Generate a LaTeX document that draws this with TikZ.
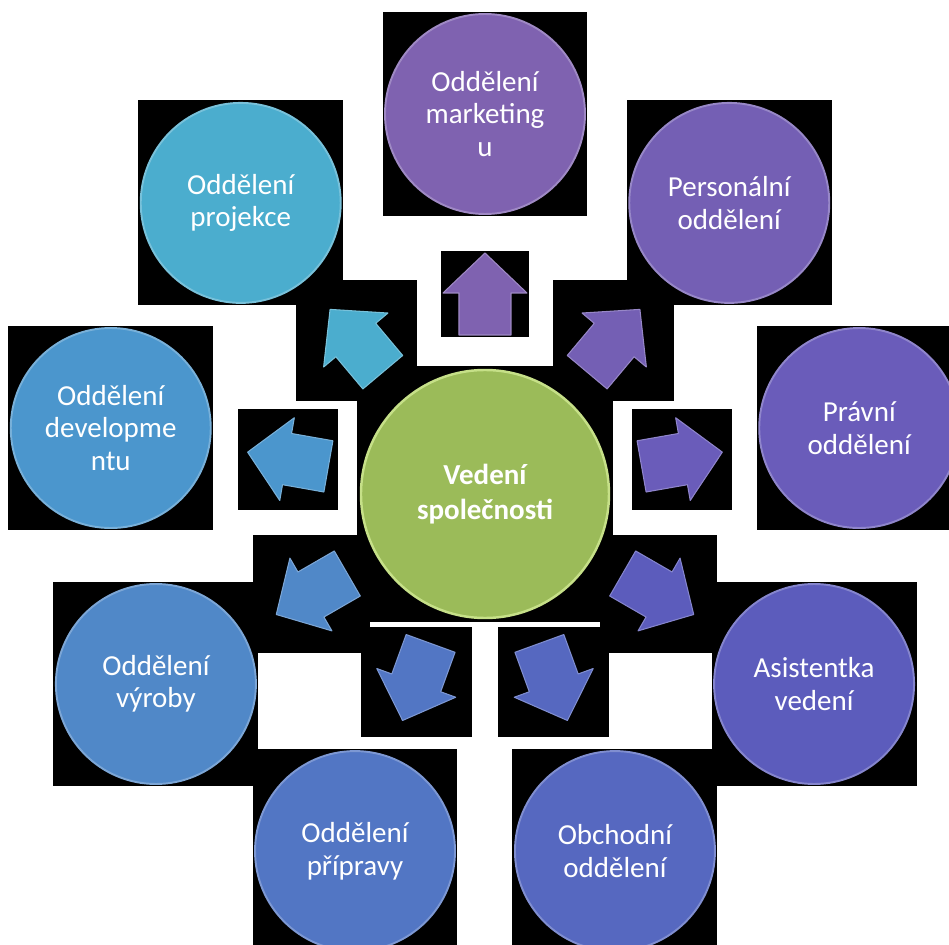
\documentclass[tikz,border=0pt]{standalone}
\usepackage{fontspec}
\setmainfont{Carlito}
\usepackage{tikz}
\usetikzlibrary{calc,fit,backgrounds}
\definecolor{headgreen}{HTML}{9BBB59}
\definecolor{headrim}{HTML}{C6E088}
\definecolor{deptA}{HTML}{7F62B0}
\definecolor{deptB}{HTML}{745FB4}
\definecolor{deptC}{HTML}{6A5CBA}
\definecolor{deptD}{HTML}{5C5CBC}
\definecolor{deptE}{HTML}{5668C0}
\definecolor{deptF}{HTML}{5276C4}
\definecolor{deptG}{HTML}{5088C8}
\definecolor{deptH}{HTML}{4B96CD}
\definecolor{deptI}{HTML}{4BADCE}
\tikzset{
    every picture/.style={line join=round},
    headnode/.style={circle,minimum size=4.96cm,inner sep=0pt,
      fill=headgreen,draw=headrim,line width=1.4pt,
      text=white,align=center,font=\fontsize{16.5}{19.5}\selectfont\bfseries},
    deptnode/.style={circle,minimum size=4cm,inner sep=0pt,line width=1.1pt,
      text=white,align=center,font=\fontsize{16.5}{18.5}\selectfont},
    blockarrow/.style={line width=0.6pt},
    backdrop/.style={rectangle,fill=black,draw=none,inner sep=#1}
}

\begin{document}
\begin{tikzpicture}
  \useasboundingbox (-9.70,-9.02) rectangle (9.28,9.88);
  \begin{scope}[on background layer]
    \fill[white] (-9.70,-9.02) rectangle (9.28,9.88);
  \end{scope}

  % management in the middle
  \node[headnode] (head) at (0,0) {Vedení\\společnosti};
  \begin{scope}[on background layer]
    \node[backdrop=0.06cm,fit=(head.north)(head.south)(head.east)(head.west)] {};
  \end{scope}

  % departments round it, one arrow each
  \foreach \ang/\col/\txt [count=\i] in {
      90/deptA/{Oddělení\\marketing\\u},
      50/deptB/{Personální\\oddělení},
      10/deptC/{Právní\\oddělení},
      -30/deptD/{Asistentka\\vedení},
      -70/deptE/{Obchodní\\oddělení},
      -110/deptF/{Oddělení\\přípravy},
      -150/deptG/{Oddělení\\výroby},
      170/deptH/{Oddělení\\developme\\ntu},
      130/deptI/{Oddělení\\projekce}}{
    \node[deptnode,fill=\col,draw=\col!75!white] (d\i) at ($(head.center)+(\ang:7.6)$) {\txt};
    \begin{scope}[shift={(head.center)},rotate=\ang]
      \coordinate (a\i-1) at (3.18,-0.52);
      \coordinate (a\i-2) at (4.02,-0.52);
      \coordinate (a\i-3) at (4.02,-0.84);
      \coordinate (a\i-4) at (4.82,0);
      \coordinate (a\i-5) at (4.02,0.84);
      \coordinate (a\i-6) at (4.02,0.52);
      \coordinate (a\i-7) at (3.18,0.52);
      % frame of the arrow shape
      \coordinate (f\i-1) at (3.18,-0.84);
      \coordinate (f\i-2) at (4.82,-0.84);
      \coordinate (f\i-3) at (4.82,0.84);
      \coordinate (f\i-4) at (3.18,0.84);
    \end{scope}
    \draw[blockarrow,fill=\col,draw=\col!75!white]
      (a\i-1) -- (a\i-2) -- (a\i-3) -- (a\i-4) -- (a\i-5) -- (a\i-6) -- (a\i-7) -- cycle;
    \begin{scope}[on background layer]
      \node[backdrop=0.03cm,fit=(d\i.north)(d\i.south)(d\i.east)(d\i.west)] {};
      \node[backdrop=0.04cm,fit=(f\i-1)(f\i-2)(f\i-3)(f\i-4)] {};
    \end{scope}
  }
\end{tikzpicture}
\end{document}
